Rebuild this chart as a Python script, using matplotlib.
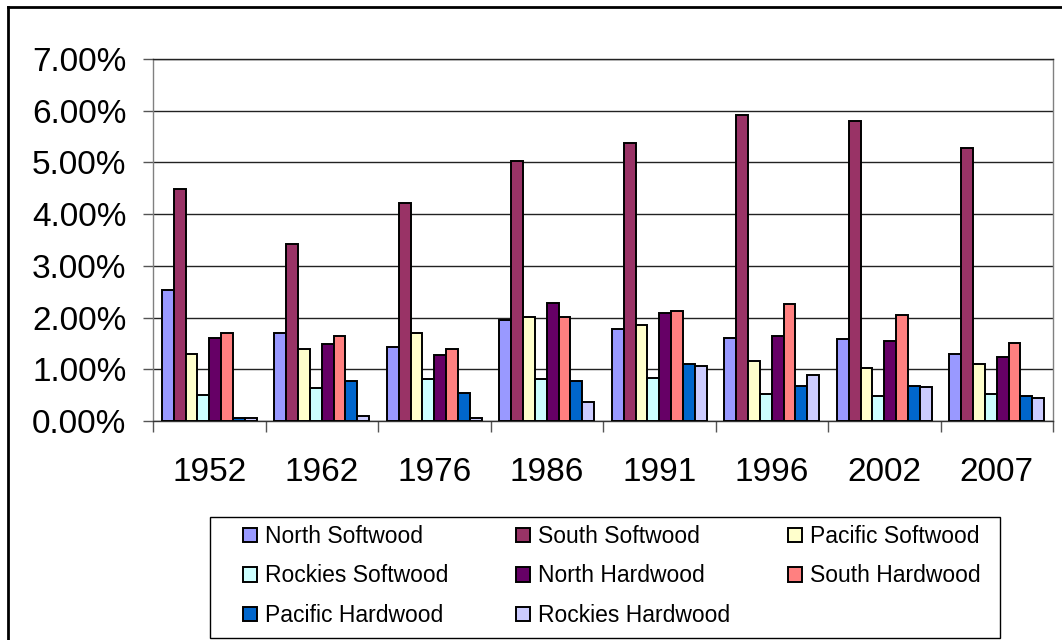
import numpy as np
import matplotlib
matplotlib.use("Agg")
import matplotlib.pyplot as plt
from matplotlib.lines import Line2D
from matplotlib.patches import Rectangle
from matplotlib.ticker import FuncFormatter, FixedLocator

years = ["1952", "1962", "1976", "1986", "1991", "1996", "2002", "2007"]

north_softwood   = [2.53, 1.71, 1.44, 1.95, 1.78, 1.61, 1.58, 1.30]
south_softwood   = [4.49, 3.43, 4.22, 5.03, 5.38, 5.91, 5.80, 5.27]
pacific_softwood = [1.30, 1.40, 1.71, 2.02, 1.85, 1.16, 1.03, 1.10]
rockies_softwood = [0.50, 0.64, 0.82, 0.82, 0.83, 0.52, 0.48, 0.52]
north_hardwood   = [1.61, 1.48, 1.27, 2.29, 2.09, 1.64, 1.55, 1.24]
south_hardwood   = [1.71, 1.64, 1.40, 2.02, 2.13, 2.26, 2.05, 1.50]
pacific_hardwood = [0.06, 0.78, 0.55, 0.78, 1.10, 0.68, 0.68, 0.48]
rockies_hardwood = [0.06, 0.09, 0.06, 0.37, 1.06, 0.89, 0.65, 0.44]

series = [
    ("North Softwood", north_softwood, "#9999FF"),
    ("South Softwood", south_softwood, "#993366"),
    ("Pacific Softwood", pacific_softwood, "#FFFFCC"),
    ("Rockies Softwood", rockies_softwood, "#CCFFFF"),
    ("North Hardwood", north_hardwood, "#660066"),
    ("South Hardwood", south_hardwood, "#FF8080"),
    ("Pacific Hardwood", pacific_hardwood, "#0066CC"),
    ("Rockies Hardwood", rockies_hardwood, "#CCCCFF"),
]

plt.rcParams["font.family"] = ["Liberation Sans", "DejaVu Sans"]

W, H = 1062, 640
fig = plt.figure(figsize=(W / 100, H / 100), dpi=100)
ax = fig.add_axes([153 / W, 1 - 421 / H, 900 / W, 362 / H])

n = len(series)
gap = 1.5
bw = 1.0 / (n + gap)
x = np.arange(len(years))
for i, (name, vals, col) in enumerate(series):
    offs = (i - (n - 1) / 2) * bw
    ax.bar(x + offs, vals, width=bw, color=col, edgecolor="black",
           linewidth=1.4, label=name, zorder=3)

ax.set_xlim(-0.5, len(years) - 0.5)
ax.set_ylim(0, 7)
ax.set_yticks(np.arange(0, 8, 1))
ax.yaxis.set_major_formatter(FuncFormatter(lambda v, p: f"{v:.2f}%"))
ax.yaxis.grid(True, color="#222222", linewidth=1.0, zorder=0)
ax.set_axisbelow(True)

ax.set_xticks(x)
ax.set_xticklabels(years)
ax.xaxis.set_minor_locator(FixedLocator(np.arange(-0.5, len(years), 1)))
ax.tick_params(axis="x", which="major", length=0, pad=26, labelsize=24)
ax.tick_params(axis="x", which="minor", length=8, width=1.0, color="#555555", direction="out")
ax.tick_params(axis="y", which="major", length=7, width=1.0, color="#555555",
               direction="out", pad=12, labelsize=24)

for side in ["left", "right", "top", "bottom"]:
    ax.spines[side].set_color("#808080")
    ax.spines[side].set_linewidth(1.0)
ax.spines["bottom"].set_color("#333333")
ax.spines["top"].set_color("#222222")

# legend: box plus three columns laid out row by row
handles, labels = ax.get_legend_handles_labels()
fig.add_artist(Rectangle((210 / W, 1 - 638 / H), 790 / W, 121 / H,
                         transform=fig.transFigure, facecolor="white",
                         edgecolor="black", linewidth=1.0))
col_x = [243, 516, 788]
for c in range(3):
    idx = list(range(c, len(handles), 3))
    leg = fig.legend([handles[i] for i in idx], [labels[i] for i in idx],
                     loc="upper left", bbox_to_anchor=(col_x[c] / W, 1 - 525 / H),
                     frameon=False, fontsize=16.5, handlelength=0.6,
                     handleheight=0.6, handletextpad=0.35, labelspacing=0.72,
                     borderpad=0, borderaxespad=0)

# outer chart frame
fig.add_artist(Line2D([8 / W, 8 / W], [0, 1 - 7 / H], color="black", lw=2, transform=fig.transFigure))
fig.add_artist(Line2D([8 / W, 1], [1 - 7 / H, 1 - 7 / H], color="black", lw=2, transform=fig.transFigure))

fig.savefig("out.png", dpi=100)
